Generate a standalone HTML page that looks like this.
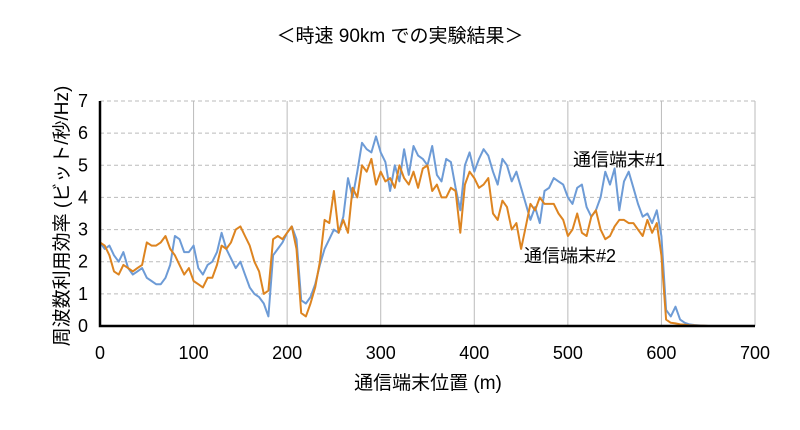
<!DOCTYPE html>
<html><head><meta charset="utf-8"><style>
body{margin:0;background:#fff;font-family:"Liberation Sans","Noto Sans CJK JP",sans-serif}
</style></head><body>
<svg id="c" width="800" height="425" xmlns="http://www.w3.org/2000/svg" font-family="Liberation Sans, Noto Sans CJK JP, sans-serif"></svg>
<script>
const xStep = 5;
const blue = [2.6,2.4,2.5,2.2,2.0,2.3,1.8,1.6,1.7,1.8,1.5,1.4,1.3,1.3,1.5,1.9,2.8,2.7,2.3,2.3,2.5,1.8,1.6,1.9,2.0,2.3,2.9,2.4,2.1,1.8,2.0,1.6,1.2,1.0,0.9,0.7,0.3,2.2,2.4,2.6,2.9,3.1,2.7,0.8,0.7,0.9,1.3,1.9,2.4,2.7,3.0,2.9,3.4,4.6,4.0,4.8,5.7,5.5,5.4,5.9,5.4,5.1,4.2,5.0,4.5,5.5,4.7,5.6,5.3,5.2,5.0,5.6,4.7,4.5,5.2,5.1,4.3,3.6,5.0,5.4,4.8,5.2,5.5,5.3,4.8,4.4,5.2,5.0,4.5,4.8,4.3,3.8,3.3,3.7,3.2,4.2,4.3,4.6,4.5,4.4,4.0,3.8,4.3,4.4,3.7,3.4,3.6,4.0,4.8,4.4,4.9,3.6,4.5,4.8,4.3,3.8,3.4,3.5,3.2,3.6,2.8,0.5,0.3,0.6,0.2,0.1,0.05,0.03,0.02,0.01,0];
const orange = [2.6,2.5,2.2,1.7,1.6,1.9,1.8,1.7,1.8,1.9,2.6,2.5,2.5,2.6,2.8,2.4,2.2,1.9,1.6,1.8,1.4,1.3,1.2,1.5,1.5,1.9,2.5,2.4,2.6,3.0,3.1,2.8,2.5,2.0,1.7,1.0,1.1,2.7,2.8,2.7,2.9,3.1,2.4,0.4,0.3,0.7,1.2,2.0,3.3,3.2,4.2,2.9,3.3,2.9,4.3,4.0,5.0,4.8,5.2,4.4,4.8,4.5,4.6,4.3,5.0,4.6,4.4,4.8,4.3,4.9,5.0,4.2,4.4,4.0,4.0,4.3,4.2,2.9,4.4,4.8,4.6,4.3,4.4,4.6,3.5,3.3,3.9,3.7,3.0,3.2,2.4,3.1,3.8,3.6,4.0,3.8,3.8,3.8,3.5,3.3,2.8,3.0,3.5,2.9,2.8,3.4,3.6,3.0,2.7,2.8,3.1,3.3,3.3,3.2,3.2,3.0,2.8,3.3,2.9,3.2,2.2,0.2,0.1,0.08,0.05,0.04,0.02,0.02,0.01,0.01,0];
const xTicks = [0,100,200,300,400,500,600,700];
const yTicks = [0,1,2,3,4,5,6,7];
const NS="http://www.w3.org/2000/svg", svg=document.getElementById('c');
const X0=100,X1=755,Y0=326,Y1=101;
const sx=v=>X0+(v/700)*(X1-X0), sy=v=>Y0-(v/7)*(Y0-Y1);
function mk(t,a,txt){const e=document.createElementNS(NS,t);for(const k in a)e.setAttribute(k,a[k]);if(txt!=null)e.textContent=txt;svg.appendChild(e);return e;}
yTicks.forEach(v=>{if(v>0){const l=mk('line',{x1:X0,x2:X1,y1:sy(v),y2:sy(v),stroke:'#bbb','stroke-dasharray':'4,3'});

}
const t=mk('text',{x:X0-12,y:sy(v)+6,'text-anchor':'end','font-size':18},v);

});
xTicks.forEach(v=>{if(v>0){const l=mk('line',{x1:sx(v),x2:sx(v),y1:Y1,y2:Y0,stroke:'#bbb'});

}
const t=mk('text',{x:sx(v),y:Y0+33,'text-anchor':'middle','font-size':18},v);

});
function series(arr,col,name){const d=arr.map((v,i)=>(i?'L':'M')+sx(i*xStep).toFixed(1)+','+sy(v).toFixed(1)).join('');
const p=mk('path',{d:d,fill:'none',stroke:col,'stroke-width':2,'stroke-linejoin':'round'});

}
series(blue,'#6d9bd6','series-terminal-1');
series(orange,'#dd8420','series-terminal-2');
const ax=mk('path',{d:`M${X0},${Y1}L${X0},${Y0}L${X1},${Y0}`,fill:'none',stroke:'#000','stroke-width':2.5});


const lab=[['chart-title',400,42,'＜時速 90km での実験結果＞',19,'middle'],['label-terminal-1',573,166,'通信端末#1',18,'start'],['label-terminal-2',524,262,'通信端末#2',18,'start'],['x-axis-title',428,389,'通信端末位置 (m)',19,'middle']];
lab.forEach(a=>{const t=mk('text',{x:a[1],y:a[2],'font-size':a[4],'text-anchor':a[5]},a[3]);

});
const yt=mk('text',{x:0,y:0,'font-size':19,'text-anchor':'middle',transform:'translate(68,216) rotate(-90)'},'周波数利用効率 (ビット/秒/Hz)');


</script>
</body></html>
